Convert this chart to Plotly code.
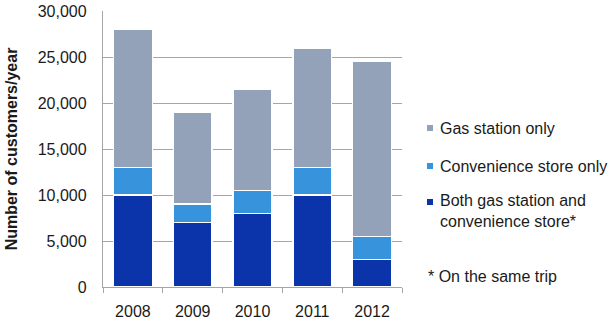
import plotly.graph_objects as go

years = ["2008", "2009", "2010", "2011", "2012"]
both = [10000, 7000, 8000, 10000, 3000]
conv_only = [3000, 2000, 2500, 3000, 2500]
gas_only = [15000, 10000, 11000, 13000, 19000]

names = ["Both gas station and<br>convenience store*", "Convenience store only", "Gas station only"]
colors = ["#0B33AA", "#3693DC", "#93A2B8"]
footnote = "* On the same trip"
y_title = "Number of customers/year"
y_ticks = [0, 5000, 10000, 15000, 20000, 25000, 30000]

W, H = 609, 325
L, R, T, B = 103, 207, 11, 38
pw, ph = W - L - R, H - T - B

def px_x(x):
    return (x - L) / pw

def px_y(y):
    return (H - B - y) / ph

fig = go.Figure()
for vals, name, col in zip([both, conv_only, gas_only], names, colors):
    fig.add_trace(go.Bar(x=years, y=vals, name=name, marker=dict(color=col, line=dict(color="white", width=1.5)), showlegend=False))

fig.update_layout(
    width=W, height=H,
    margin=dict(l=L, r=R, t=T, b=B, autoexpand=False),
    barmode="stack", bargap=0.35,
    plot_bgcolor="white", paper_bgcolor="white",
    font=dict(family="Liberation Sans, Arial, sans-serif", size=16, color="#1a1a1a"),
)
fig.update_xaxes(
    showline=True, linecolor="#A6A6A6", linewidth=1.3,
    ticks="outside", tickson="boundaries", ticklen=5, tickcolor="#A6A6A6",
    ticklabelstandoff=10, showgrid=False,
)
fig.update_yaxes(
    range=[0, 30000], tickvals=y_ticks, tickformat=",",
    showline=True, linecolor="#A6A6A6", linewidth=1.3,
    showgrid=True, gridcolor="#A6A6A6", gridwidth=1.3, zeroline=False,
    ticks="", ticklabelstandoff=12,
    title=dict(text="<b>" + y_title + "</b>", standoff=16, font=dict(size=16)),
    automargin=False,
)

legend_y = [202 + 9, 166, 128]
for name, col, ly in zip(names, colors, legend_y):
    sq_y = ly if "<br>" not in name else ly - 9
    fig.add_shape(type="rect", xref="paper", yref="paper",
                  x0=px_x(427), x1=px_x(433), y0=px_y(sq_y + 3), y1=px_y(sq_y - 3),
                  fillcolor=col, line=dict(width=0))
    fig.add_annotation(text=name, xref="paper", yref="paper", x=px_x(438), y=px_y(ly),
                       xanchor="left", yanchor="middle", align="left", showarrow=False,
                       font=dict(size=16))
fig.add_annotation(text=footnote, xref="paper", yref="paper", x=px_x(426), y=px_y(276),
                   xanchor="left", yanchor="middle", showarrow=False, font=dict(size=16))

fig.write_html("out.html")
